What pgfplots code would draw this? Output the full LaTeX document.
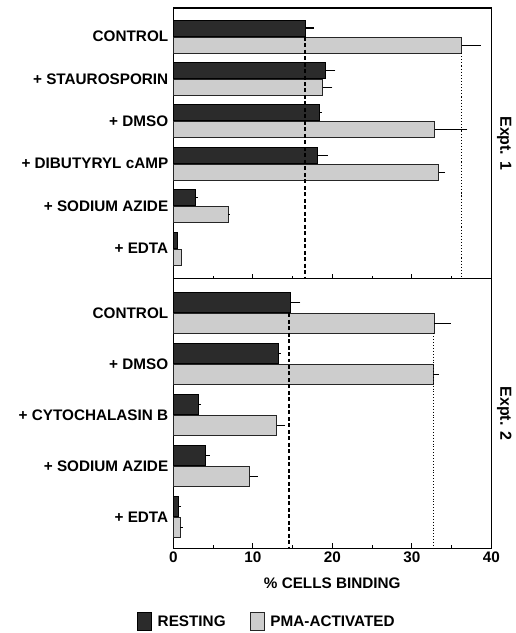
\documentclass[border=0pt]{standalone}
\usepackage{fontspec}
\setmainfont{Liberation Sans}
\usepackage{pgfplots}
\pgfplotsset{compat=1.18}

\definecolor{darkbar}{HTML}{2B2B2B}
\definecolor{lightbar}{HTML}{CDCDCD}

\newcommand{\lblfont}{\fontsize{15.3}{17}\selectfont\bfseries}

\pgfplotsset{
  common/.style={
    scale only axis, width=318.5pt,
    xmin=0, xmax=40,
    axis line style={line width=1.3pt},
    xtick={0,10,20,30,40}, minor xtick={5,15,25,35},
    xtick pos=bottom, ytick pos=left,
    tick align=inside,
    major tick length=5pt, minor tick length=3pt,
    every tick/.style={line width=1pt, black},
    ytick style={draw=none},
    ticklabel style={font=\lblfont},
    yticklabel style={xshift=-1.5pt},
    /pgf/number format/assume math mode=true,
    clip=false,
  },
  errstyle/.style={
    error bars/x dir=plus, error bars/x explicit, error bars/error mark=none,
    error bars/error bar style={line width=1.1pt, black}},
  restbar/.style={xbar, bar shift=0pt, fill=darkbar, draw=black, line width=0.9pt, errstyle},
  pmabar/.style={xbar, bar shift=0pt, fill=lightbar, draw=black!85, line width=0.9pt, errstyle},
  legimg/.style={legend image code/.code={\draw[##1, line width=0.9pt] (0pt,-9pt) rectangle (14pt,9pt);}},
}

\begin{document}
\begin{tikzpicture}
\path (0pt,0pt) rectangle (516pt,-633pt);

% ---------- Expt. 1 ----------  (group centres at 5..0; bars offset by +-0.201)
\begin{axis}[common,
  at={(173.5pt,-8pt)}, anchor=north west,
  height=271pt,
  ymin=-0.709, ymax=5.674,
  ytick={0,1,2,3,4,5},
  yticklabels={+ EDTA, + SODIUM AZIDE, + DIBUTYRYL cAMP, + DMSO, + STAUROSPORIN, CONTROL},
  xticklabels={},
]
\addplot[restbar, bar width=16pt] coordinates {
  (16.6,5.201) +- (1.1,0)
  (19.1,4.201) +- (1.3,0)
  (18.4,3.201) +- (0.3,0)
  (18.1,2.201) +- (1.3,0)
  (2.85,1.201) +- (0.2,0)
  (0.5,0.201)  +- (0.0,0)
};
\addplot[pmabar, bar width=16pt] coordinates {
  (36.3,4.799) +- (2.4,0)
  (18.8,3.799) +- (1.2,0)
  (32.9,2.799) +- (4.1,0)
  (33.4,1.799) +- (0.8,0)
  (6.9,0.799)  +- (0.2,0)
  (1.0,-0.201) +- (0.0,0)
};
\addplot[black, line width=1.8pt, dash pattern=on 4pt off 2.5pt, forget plot] coordinates {(16.6,5.0) (16.6,-0.709)};
\addplot[black, line width=1.1pt, dotted, forget plot] coordinates {(36.3,4.61) (36.3,-0.709)};
\node[rotate=-90, font=\fontsize{16}{18}\selectfont\bfseries] at ([xshift=13pt]rel axis cs:1,0.5) {Expt. 1};
\end{axis}

% ---------- Expt. 2 ----------  (group centres at 4..0; bars offset by +-0.2055)
\begin{axis}[common,
  at={(173.5pt,-279pt)}, anchor=north west,
  height=270pt,
  ymin=-0.607, ymax=4.675,
  ytick={0,1,2,3,4},
  yticklabels={+ EDTA, + SODIUM AZIDE, + CYTOCHALASIN B, + DMSO, CONTROL},
  xticklabels={0,10,20,30,40},
  xlabel={\% CELLS BINDING},
  xlabel style={font=\lblfont, at={(0.5,-0.13)}, anchor=center},
  legend columns=2,
  legend style={at={(0.294,-0.272)}, anchor=center, draw=none, fill=none,
    font=\lblfont,
    /tikz/every odd column/.append style={column sep=4pt},
    /tikz/every even column/.append style={column sep=22pt}},
]
\addplot[restbar, legimg, bar width=20pt] coordinates {
  (14.7,4.2055) +- (1.3,0)
  (13.2,3.2055) +- (0.3,0)
  (3.2,2.2055)  +- (0.3,0)
  (4.1,1.2055)  +- (0.5,0)
  (0.6,0.2055)  +- (0.4,0)
};
\addplot[pmabar, legimg, bar width=20pt] coordinates {
  (32.8,3.7945) +- (2.1,0)
  (32.7,2.7945) +- (0.7,0)
  (13.0,1.7945) +- (1.1,0)
  (9.6,0.7945)  +- (1.0,0)
  (0.9,-0.2055) +- (0.3,0)
};
\addplot[black, line width=1.8pt, dash pattern=on 4pt off 2.5pt, forget plot] coordinates {(14.6,4.0) (14.6,-0.607)};
\addplot[black, line width=0.9pt, dotted, forget plot] coordinates {(32.7,3.6) (32.7,-0.607)};
\legend{RESTING, PMA-ACTIVATED}
\node[rotate=-90, font=\fontsize{16}{18}\selectfont\bfseries] at ([xshift=13pt]rel axis cs:1,0.5) {Expt. 2};
\end{axis}
\end{tikzpicture}
\end{document}
